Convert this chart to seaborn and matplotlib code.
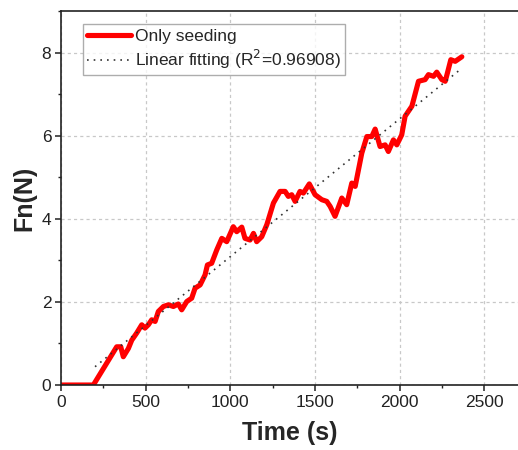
import numpy as np
import pandas as pd
import matplotlib
matplotlib.use("Agg")
import matplotlib.pyplot as plt
import seaborn as sns
from matplotlib.ticker import MultipleLocator

# Normal force recorded during the seeding-only run
time_s = [0, 191, 329, 353, 368, 398, 418, 447, 477, 496, 516, 536, 556, 575, 605,
          634, 664, 693, 713, 743, 772, 792, 822, 851, 865, 890, 920, 950, 979,
          1018, 1038, 1068, 1087, 1117, 1137, 1156, 1186, 1216, 1255, 1294, 1324,
          1343, 1363, 1383, 1412, 1432, 1467, 1501, 1541, 1570, 1590, 1619, 1659,
          1688, 1718, 1738, 1777, 1807, 1836, 1856, 1885, 1915, 1934, 1964, 1984,
          2013, 2033, 2073, 2112, 2151, 2171, 2201, 2220, 2250, 2270, 2283, 2303,
          2329, 2368]
force_n = [0, 0, 0.92, 0.92, 0.68, 0.88, 1.08, 1.25, 1.45, 1.37, 1.45, 1.57, 1.53,
           1.77, 1.89, 1.93, 1.89, 1.95, 1.81, 2.01, 2.09, 2.33, 2.41, 2.65, 2.89,
           2.93, 3.25, 3.53, 3.45, 3.81, 3.69, 3.80, 3.53, 3.49, 3.65, 3.45, 3.57,
           3.86, 4.38, 4.66, 4.66, 4.54, 4.58, 4.42, 4.66, 4.62, 4.84, 4.58, 4.46,
           4.42, 4.30, 4.06, 4.50, 4.34, 4.86, 4.78, 5.58, 5.98, 5.98, 6.16, 5.74,
           5.78, 5.62, 5.90, 5.78, 6.02, 6.47, 6.71, 7.31, 7.35, 7.47, 7.43, 7.53,
           7.35, 7.31, 7.51, 7.83, 7.79, 7.90]

# Linear fit of the loading segment
fit_slope = 0.003315
fit_intercept = -0.226
fit_range = [201, 2358]
fit_label = "Linear fitting (R$^2$=0.96908)"

df = pd.DataFrame({"Time (s)": time_s, "Fn(N)": force_n})

sns.set_style("ticks")
plt.rcParams["font.family"] = ["Liberation Sans", "DejaVu Sans"]

fig = plt.figure(figsize=(5.18, 4.5), dpi=100)
ax = fig.add_axes([0.1178, 0.1444, 0.8822, 0.831])

sns.lineplot(data=df, x="Time (s)", y="Fn(N)", ax=ax, color="#ff0000",
             linewidth=3.7, label="Only seeding", solid_joinstyle="round",
             solid_capstyle="round")

fit_x = np.linspace(fit_range[0], fit_range[1], 50)
ax.plot(fit_x, fit_slope * fit_x + fit_intercept, color="#333333",
        linestyle=(0, (1, 3)), linewidth=1.2, label=fit_label)

ax.set_xlim(0, 2700)
ax.set_ylim(0, 9)
ax.xaxis.set_major_locator(MultipleLocator(500))
ax.xaxis.set_minor_locator(MultipleLocator(250))
ax.yaxis.set_major_locator(MultipleLocator(2))
ax.yaxis.set_minor_locator(MultipleLocator(1))

ax.grid(True, which="major", color="#c8c8c8", linestyle=(0, (2.5, 2.5)), linewidth=0.9)
ax.set_axisbelow(True)

for s in ["left", "bottom", "top"]:
    ax.spines[s].set_linewidth(1.2)
    ax.spines[s].set_color("#222222")
ax.spines["right"].set_visible(False)

ax.tick_params(which="major", direction="out", length=4, width=1.1,
               labelsize=12.5, colors="#222222", pad=3)
ax.tick_params(which="minor", direction="out", length=2.5, width=1.0, colors="#222222")
ax.tick_params(axis="x", top=False)

ax.set_xlabel("Time (s)", fontsize=18, fontweight="bold", labelpad=8)
ax.set_ylabel("Fn(N)", fontsize=18, fontweight="bold", labelpad=4)

leg = ax.legend(loc="upper left", bbox_to_anchor=(0.048, 0.965), fontsize=12.5,
                frameon=True, fancybox=False, edgecolor="#999999",
                handlelength=2.5, handletextpad=0.25, borderpad=0.25,
                labelspacing=0.25, borderaxespad=0)
leg.get_frame().set_linewidth(1.0)

fig.savefig("out.png", dpi=100)
